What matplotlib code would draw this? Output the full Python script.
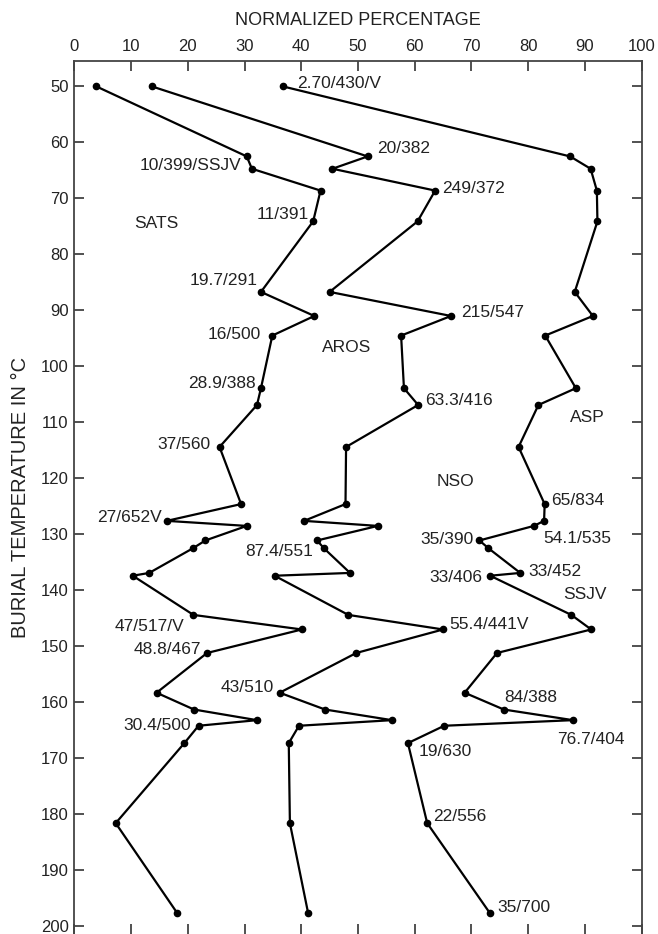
import matplotlib
matplotlib.use('Agg')
import matplotlib.pyplot as plt

plt.rcParams['font.family'] = ['Liberation Sans', 'DejaVu Sans']

# burial temperature of each sample (deg C)
temps = [50, 62.5, 64.7, 68.6, 74.1, 86.7, 91.0, 94.5, 103.9, 106.9, 114.4,
         124.6, 127.6, 128.5, 131.1, 132.5, 136.9, 137.4, 144.4, 147.0,
         151.2, 158.3, 161.3, 163.2, 164.2, 167.3, 181.6, 197.6]

# cumulative normalized percentages (boundaries between fractions)
sats = [3.9, 30.4, 31.3, 43.4, 42.1, 32.9, 42.3, 34.9, 32.9, 32.2, 25.6,
        29.4, 16.3, 30.4, 23.1, 20.9, 13.2, 10.3, 21.0, 40.1,
        23.4, 14.5, 21.1, 32.2, 21.9, 19.4, 7.3, 18.1]
sats_aros = [13.7, 51.7, 45.5, 63.6, 60.5, 45.0, 66.4, 57.6, 58.1, 60.6, 47.9,
             47.8, 40.5, 53.5, 42.8, 44.0, 48.6, 35.3, 48.3, 65.0,
             49.7, 36.2, 44.2, 56.0, 39.6, 37.8, 38.0, 41.2]
sats_aros_nso = [36.8, 87.4, 91.0, 92.1, 92.2, 88.2, 91.4, 83.0, 88.4, 81.8, 78.3,
                 82.9, 82.8, 81.0, 71.4, 73.0, 78.6, 73.3, 87.6, 91.1,
                 74.5, 68.8, 75.7, 87.9, 65.2, 58.8, 62.2, 73.2]

# sample annotations: text, x, y, horizontal alignment
sample_labels = [
    ('2.70/430/V', 39.3, 49.1, 'left'),
    ('20/382', 53.4, 60.7, 'left'),
    ('10/399/SSJV', 29.4, 63.9, 'right'),
    ('249/372', 64.9, 67.9, 'left'),
    ('11/391', 41.4, 72.5, 'right'),
    ('19.7/291', 32.3, 84.4, 'right'),
    ('215/547', 68.1, 90.0, 'left'),
    ('16/500', 32.9, 94.0, 'right'),
    ('28.9/388', 31.9, 102.8, 'right'),
    ('63.3/416', 61.9, 105.8, 'left'),
    ('37/560', 24.0, 113.6, 'right'),
    ('65/834', 84.0, 123.6, 'left'),
    ('27/652V', 15.5, 126.7, 'right'),
    ('35/390', 70.4, 130.6, 'right'),
    ('54.1/535', 82.6, 130.4, 'left'),
    ('87.4/551', 42.1, 132.7, 'right'),
    ('33/452', 80.0, 136.4, 'left'),
    ('33/406', 71.9, 137.5, 'right'),
    ('47/517/V', 19.4, 146.1, 'right'),
    ('55.4/441V', 66.1, 145.8, 'left'),
    ('48.8/467', 22.3, 150.3, 'right'),
    ('43/510', 35.1, 157.1, 'right'),
    ('84/388', 75.8, 158.9, 'left'),
    ('30.4/500', 20.5, 163.8, 'right'),
    ('76.7/404', 85.1, 166.3, 'left'),
    ('19/630', 60.6, 168.5, 'left'),
    ('22/556', 63.2, 180.1, 'left'),
    ('35/700', 74.5, 196.3, 'left'),
]

# fraction names
field_labels = [
    ('SATS', 10.5, 74.2),
    ('AROS', 43.6, 96.4),
    ('ASP', 87.4, 108.9),
    ('NSO', 63.8, 120.2),
    ('SSJV', 86.1, 140.5),
]

fig = plt.figure(figsize=(6.58, 9.34), dpi=100)
ax = fig.add_axes([0.1129, 0.0, 0.8623, 0.935])

for xs in (sats, sats_aros, sats_aros_nso):
    ax.plot(xs, temps, color='black', linewidth=1.6, marker='o',
            markersize=4.5, solid_joinstyle='miter')

for txt, x, y, ha in sample_labels:
    ax.text(x, y + 0.3, txt, ha=ha, va='center', fontsize=12.5, color='#222222')
for txt, x, y in field_labels:
    ax.text(x, y + 0.3, txt, ha='left', va='center', fontsize=12.5, color='#222222')

ax.set_xlim(0, 100)
ax.set_ylim(201.4, 45.4)
ax.set_xticks(range(0, 101, 10))
ax.set_yticks(range(50, 201, 10))

ax.xaxis.tick_top()
ax.xaxis.set_label_position('top')
ax.tick_params(axis='x', which='both', top=True, bottom=True, labeltop=True,
               labelbottom=False, direction='in', length=7, width=1.2,
               labelsize=12, pad=5, color='#333333', labelcolor='#222222')
ax.tick_params(axis='y', which='both', left=True, right=True, direction='in',
               length=7, width=1.2, labelsize=12, pad=4, color='#333333',
               labelcolor='#222222')

ax.set_xlabel('NORMALIZED PERCENTAGE', fontsize=13, labelpad=10, color='#222222')
ax.set_ylabel('BURIAL TEMPERATURE IN °C', fontsize=14.5, labelpad=8, color='#222222')

for side in ('top', 'left', 'right'):
    ax.spines[side].set_linewidth(1.3)
    ax.spines[side].set_color('#444444')
ax.spines['bottom'].set_visible(False)

fig.savefig('out.png', dpi=100, facecolor='white')
